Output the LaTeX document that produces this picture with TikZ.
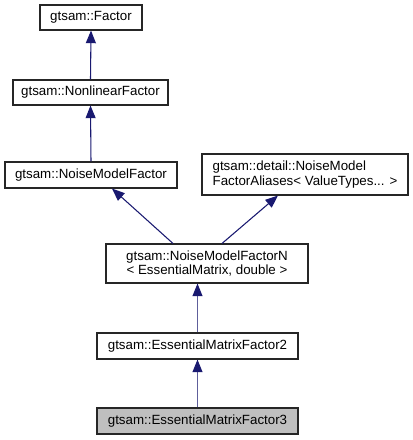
\documentclass[tikz,border=0pt]{standalone}
\usepackage{fontspec}
\setmainfont{Liberation Sans}
\usetikzlibrary{arrows.meta,calc}
\definecolor{edgeblue}{HTML}{191970}
\definecolor{hilite}{HTML}{BFBFBF}
\begin{document}
\begin{tikzpicture}[x=0.75pt,y=-0.75pt,
  box/.style={draw=black!85, line width=0.8pt, fill=white, inner sep=0pt,
    font=\fontsize{10}{10.6}\selectfont},
  inherit/.style={draw=edgeblue, line width=0.8pt,
    -{Triangle[length=9.5pt,width=7.5pt,fill=edgeblue]}},
  softline/.style={draw=edgeblue!70!white, line width=1.2pt,
    -{Triangle[length=9.5pt,width=7.5pt,color=edgeblue,fill=edgeblue,line width=0.8pt]}}]
\useasboundingbox (0,0) rectangle (413,440);

\node[box, minimum width=102*0.75pt, minimum height=25*0.75pt] (f) at (91,17.5) {gtsam::Factor};
\node[box, minimum width=155*0.75pt, minimum height=25*0.75pt] (nlf) at (90.5,92.5) {gtsam::NonlinearFactor};
\node[box, minimum width=172*0.75pt, minimum height=26*0.75pt] (nmf) at (91,175) {gtsam::NoiseModelFactor};
\node[box, minimum width=206*0.75pt, minimum height=41*0.75pt, align=left] (alias) at (305,174.5) {gtsam::detail::NoiseModel\\FactorAliases< ValueTypes... >};
\node[box, minimum width=202*0.75pt, minimum height=39*0.75pt, align=center] (nmfn) at (207,263.5) {gtsam::NoiseModelFactorN\\< EssentialMatrix, double >};
\node[box, minimum width=201*0.75pt, minimum height=26*0.75pt] (emf2) at (197.5,346) {gtsam::EssentialMatrixFactor2};
\node[box, fill=hilite, minimum width=201*0.75pt, minimum height=26*0.75pt] (emf3) at (197.5,421) {gtsam::EssentialMatrixFactor3};

\draw[inherit] (nlf.north) -- (f.south);
\draw[inherit] (nmf.north) -- (nlf.south);
\draw[inherit] ($(nmfn.north)+(-34,0)$) -- ($(nmf.south)+(21,0)$);
\draw[inherit] ($(nmfn.north)+(15,0)$) -- ($(alias.south)+(-27,0)$);
\draw[softline] (emf2.north) -- (emf2.north |- nmfn.south);
\draw[softline] (emf3.north) -- (emf2.south);
\end{tikzpicture}
\end{document}
